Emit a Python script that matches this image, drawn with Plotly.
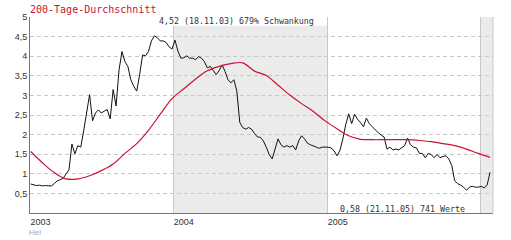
import pandas as pd
import plotly.graph_objects as go

# weekly closing values (start 2003-01-27)
price_start = "2003-01-27"
price = [0.74, 0.71, 0.70, 0.71, 0.69, 0.70, 0.70, 0.69, 0.75, 0.82, 0.85, 0.88, 1.00, 1.10,
         1.76, 1.51, 1.72, 1.68, 2.10, 2.52, 3.02, 2.35, 2.55, 2.63, 2.55, 2.60, 2.64, 2.40,
         3.15, 2.73, 3.65, 4.12, 3.86, 3.74, 3.40, 3.23, 3.11, 3.53, 4.03, 4.01, 4.12, 4.39,
         4.52, 4.47, 4.39, 4.39, 4.35, 4.24, 4.18, 4.41, 4.13, 3.95, 3.96, 4.01,
         3.95, 3.95, 3.91, 3.99, 3.95, 3.86, 3.70, 3.74, 3.65, 3.53, 3.63, 3.78, 3.61, 3.40, 3.32, 3.40, 3.11,
         2.31, 2.18, 2.14, 2.18, 2.14, 2.03, 1.94, 1.93, 1.84, 1.68, 1.49, 1.38, 1.61, 1.89, 1.74, 1.68,
         1.72, 1.68, 1.72, 1.61, 1.84, 1.97, 1.89, 1.78, 1.74, 1.72, 1.68, 1.65, 1.68, 1.68, 1.68, 1.66, 1.59, 1.46,
         1.59, 1.89, 2.26, 2.53, 2.28, 2.52, 2.39, 2.31, 2.20, 2.42, 2.28, 2.20, 2.11, 2.05, 1.99, 1.94,
         1.63, 1.68, 1.61, 1.63, 1.61, 1.66, 1.72, 1.91, 1.74, 1.68, 1.66, 1.52, 1.52, 1.41, 1.52, 1.49,
         1.41, 1.49, 1.41, 1.44, 1.46, 1.38, 1.21, 0.82, 0.75, 0.71, 0.66, 0.58, 0.66, 0.68, 0.66, 0.66,
         0.68, 0.64, 0.71, 1.04]

# 200-day moving average, read every 4 weeks
ma200 = [1.57, 1.28, 1.03, 0.87, 0.87, 0.95, 1.08, 1.25, 1.52, 1.77, 2.11, 2.52, 2.92, 3.17,
         3.42, 3.63, 3.74, 3.81, 3.83, 3.62, 3.51, 3.26, 3.01, 2.79, 2.59, 2.35, 2.15, 1.97,
         1.88, 1.87, 1.87, 1.87, 1.87, 1.85, 1.82, 1.77, 1.72, 1.63, 1.52, 1.42]

y_ticks = [0.5, 1, 1.5, 2, 2.5, 3, 3.5, 4, 4.5, 5]
y_labels = ["0,5", "1", "1,5", "2", "2,5", "3", "3,5", "4", "4,5", "5"]
x_range = ["2003-01-25 08:00", "2006-01-30"]
x_ticks = [x_range[0], "2004-01-01", "2005-01-01", "2006-01-01"]
x_labels = ["2003", "2004", "2005", ""]
title_text = "200-Tage-Durchschnitt"
max_text = "4,52 (18.11.03) 679% Schwankung"
min_text = "0,58 (21.11.05) 741 Werte"

price_dates = pd.date_range(price_start, periods=len(price), freq="7D")
ma_dates = pd.date_range(price_start, periods=len(ma200), freq="28D")

fig = go.Figure()
fig.add_trace(go.Scatter(x=price_dates, y=price, mode="lines",
                         line=dict(color="#111111", width=1), hoverinfo="skip"))
fig.add_trace(go.Scatter(x=ma_dates, y=ma200, mode="lines",
                         line=dict(color="#cc1133", width=1.2, shape="spline"), hoverinfo="skip"))

band = "#ebebeb"
fig.add_shape(type="rect", xref="x", yref="paper", x0="2004-01-01", x1="2005-01-01", y0=0, y1=1,
              fillcolor=band, line_width=0, layer="below")
fig.add_shape(type="rect", xref="x", yref="paper", x0="2006-01-01", x1=x_range[1], y0=0, y1=1,
              fillcolor=band, line_width=0, layer="below")
fig.add_shape(type="line", xref="paper", yref="paper", x0=1, x1=1, y0=0, y1=1,
              line=dict(color="#c8c8c8", width=1))
# white box behind the max label
fig.add_shape(type="rect", xref="paper", yref="paper", x0=0.272, x1=0.6415, y0=0.955, y1=1.02,
              fillcolor="white", line_width=0, layer="above")

mono = "DejaVu Sans Mono"
fig.add_annotation(text=title_text, xref="paper", yref="paper", x=-0.0045, y=1.038,
                   xanchor="left", yanchor="middle", showarrow=False,
                   font=dict(family=mono, size=10, color="#cc1133"))
fig.add_annotation(text=max_text, xref="paper", yref="paper", x=0.274, y=0.982,
                   xanchor="left", yanchor="middle", showarrow=False,
                   font=dict(family=mono, size=8.3, color="#333333"))
fig.add_annotation(text=min_text, xref="paper", yref="paper", x=0.665, y=0.022,
                   xanchor="left", yanchor="middle", showarrow=False,
                   font=dict(family=mono, size=8.3, color="#333333"))
fig.add_annotation(text="Hel", xref="paper", yref="paper", x=-0.004, y=-0.128,
                   xanchor="left", yanchor="bottom", showarrow=False, borderpad=0,
                   font=dict(family="Liberation Sans", size=8, color="#aaaaaa"))

fig.update_layout(
    width=511, height=240,
    margin=dict(l=30, r=18, t=15, b=27),
    paper_bgcolor="white", plot_bgcolor="white",
    showlegend=False,
    font=dict(family="Liberation Sans", size=9, color="#333333"),
    xaxis=dict(type="date", range=x_range, tickvals=x_ticks, ticktext=x_labels,
               ticklabelposition="outside right", ticks="",
               showgrid=True, gridcolor="#c8c8c8", gridwidth=1,
               showline=True, linecolor="#777777", linewidth=1,
               zeroline=False, fixedrange=True),
    yaxis=dict(range=[0, 5], tickvals=y_ticks, ticktext=y_labels, ticks="",
               showgrid=True, gridcolor="#c8c8c8", gridwidth=1, griddash="4px,3px",
               showline=True, linecolor="#777777", linewidth=1,
               zeroline=False, fixedrange=True),
)

fig.write_html("out.html")
